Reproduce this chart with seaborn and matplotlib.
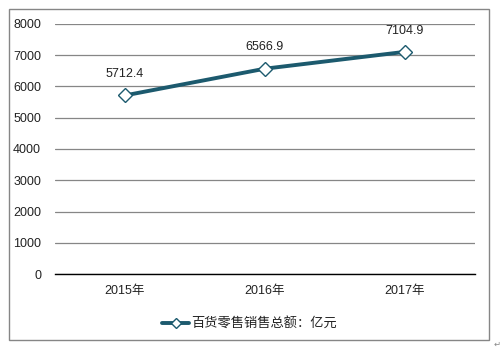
import matplotlib
matplotlib.use("Agg")
import matplotlib.pyplot as plt
import seaborn as sns
import pandas as pd
from matplotlib.patches import Rectangle

years = ["2015年", "2016年", "2017年"]
values = [5712.4, 6566.9, 7104.9]
series_name = "百货零售销售总额：亿元"
yticks = [0, 1000, 2000, 3000, 4000, 5000, 6000, 7000, 8000]

sns.set_theme(style="white")
plt.rcParams['font.family'] = ['Liberation Sans', 'Noto Sans CJK SC', 'DejaVu Sans']

df = pd.DataFrame({"year": years, "value": values, "series": series_name})

fig = plt.figure(figsize=(5.04, 3.51), dpi=100)
ax = fig.add_axes([0.109, 0.219, 0.833, 0.713])

color = "#1C5A6E"
sns.lineplot(data=df, x="year", y="value", hue="series", palette=[color],
             marker="D", markersize=7, markerfacecolor="white",
             markeredgecolor=color, markeredgewidth=1, linewidth=2.8,
             ax=ax, sort=False)

ax.set_xlim(-0.5, len(years) - 0.5)
ax.set_ylim(0, 8000)
ax.set_yticks(yticks)
ax.set_yticklabels([str(t) for t in yticks])
ax.yaxis.grid(True, color="#868686", linewidth=0.9)
ax.set_axisbelow(True)
for s in ["left", "right", "top"]:
    ax.spines[s].set_visible(False)
ax.spines["bottom"].set_color("#000000")
ax.spines["bottom"].set_linewidth(1.0)
ax.tick_params(axis="both", length=0, labelsize=9, colors="#222222")
ax.tick_params(axis="y", pad=10)
ax.tick_params(axis="x", pad=8)
ax.set_xlabel("")
ax.set_ylabel("")

for i, v in enumerate(values):
    ax.annotate(f"{v:.1f}", (i, v), xytext=(0, 11), textcoords="offset points",
                ha="center", va="bottom", fontsize=9, color="#222222")

leg = ax.legend(loc="upper center", bbox_to_anchor=(0.464, -0.125), frameon=False,
                fontsize=9.5, handlelength=2.0, handletextpad=0.2)
for t in leg.get_texts():
    t.set_color("#222222")
for h in leg.legend_handles:
    h.set_markersize(5)

fig.patches.append(Rectangle((9/504, 1 - 340/351), 480/504, 331/351,
                             transform=fig.transFigure, fill=False,
                             edgecolor="#868686", linewidth=1.0))
fig.text(497/504, 1 - 344/351, "↵", fontsize=6, color="#888888",
         ha="center", va="center", family=['DejaVu Sans'])

fig.savefig("out.png", dpi=100)
